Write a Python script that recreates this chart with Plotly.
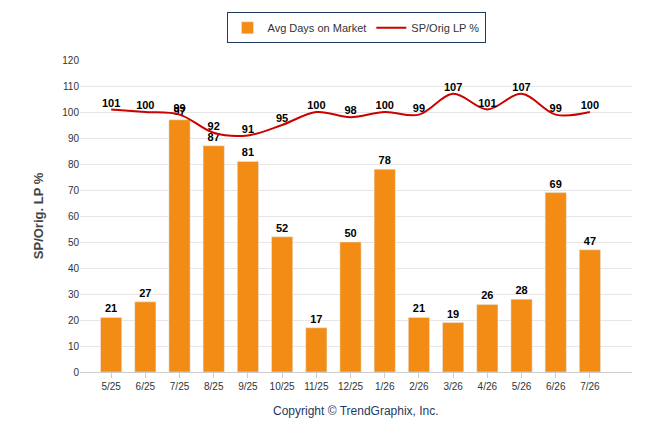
import plotly.graph_objects as go

months = ["5/25", "6/25", "7/25", "8/25", "9/25", "10/25", "11/25", "12/25",
          "1/26", "2/26", "3/26", "4/26", "5/26", "6/26", "7/26"]
days_on_market = [21, 27, 97, 87, 81, 52, 17, 50, 78, 21, 19, 26, 28, 69, 47]
sp_orig_lp = [101, 100, 99, 92, 91, 95, 100, 98, 100, 99, 107, 101, 107, 99, 100]

bold = dict(family="Arial, Liberation Sans", size=11, color="black", weight="bold")

fig = go.Figure()

fig.add_trace(go.Bar(
    x=months, y=days_on_market, name="Avg Days on Market",
    marker=dict(color="#F28C14"), width=0.62,
    text=days_on_market, textposition="outside",
    textfont=bold, cliponaxis=False,
))

fig.add_trace(go.Scatter(
    x=months, y=sp_orig_lp, name="SP/Orig LP %",
    mode="lines+text", line=dict(color="#CC0000", width=2, shape="spline"),
    text=sp_orig_lp, textposition="top center",
    textfont=bold, cliponaxis=False,
))

fig.update_layout(
    width=646, height=434,
    paper_bgcolor="white", plot_bgcolor="white",
    margin=dict(l=72, r=22, t=52, b=70, autoexpand=False),
    font=dict(family="Arial, Liberation Sans", size=10, color="#333"),
    legend=dict(orientation="h", x=0.5, xanchor="center", yref="container",
                y=0.99, yanchor="top",
                bordercolor="#1F3A60", borderwidth=1, bgcolor="white",
                font=dict(size=11, color="#333")),
    annotations=[dict(text="Copyright © TrendGraphix, Inc.", x=0.5, y=-0.155,
                      xref="paper", yref="paper", showarrow=False,
                      font=dict(size=12, color="#1F3A60"))],
)

fig.update_xaxes(range=[-0.91, 15.23], showline=True, linecolor="#ccc", ticks="outside",
                 tickcolor="#ccc", tickfont=dict(size=10, color="#333"))
fig.update_yaxes(range=[0, 120], dtick=10, gridcolor="#e6e6e6", zeroline=False,
                 title=dict(text="SP/Orig. LP %", font=dict(size=13, color="#444", weight="bold")),
                 tickfont=dict(size=10, color="#333"))

fig.write_html("out.html")
